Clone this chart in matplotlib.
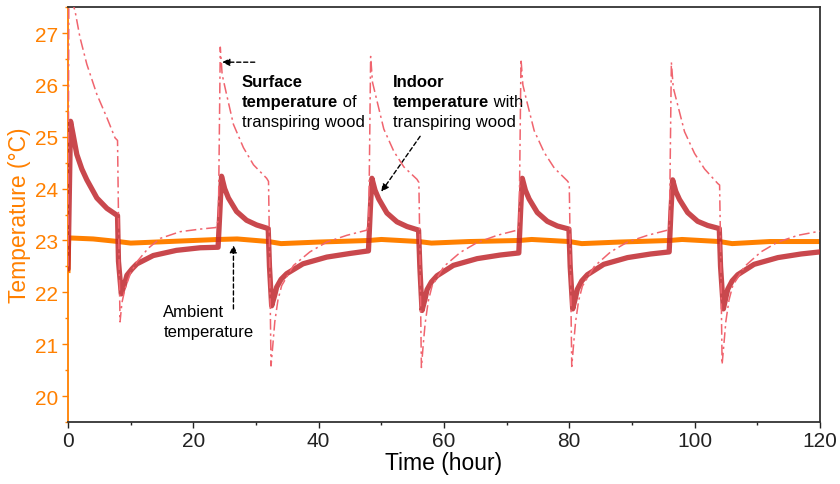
import numpy as np
import matplotlib
matplotlib.use("Agg")
import matplotlib.pyplot as plt
from matplotlib.ticker import MultipleLocator

plt.rcParams['font.family'] = ['Liberation Sans', 'DejaVu Sans']

# ambient air temperature (hour, degC)
ambient_t = [0.0, 0.1, 4, 8, 10, 14, 20, 24, 27, 32, 34, 40, 48, 50, 56, 58, 64,
             72, 74, 80, 82, 88, 96, 98, 104, 106, 112, 120]
ambient_T = [22.42, 23.05, 23.03, 22.98, 22.95, 22.97, 23.0, 23.02, 23.03, 22.98, 22.94, 22.97,
             23.0, 23.02, 22.98, 22.95, 22.98, 23.0, 23.02, 22.98, 22.94, 22.97, 23.0, 23.02,
             22.98, 22.94, 22.98, 22.98]

# indoor temperature with transpiring wood
indoor_t = [0.0, 0.4, 0.8, 1.4, 2.2, 3.0, 4.6, 6.2, 7.9, 8.05, 8.5, 9.0, 9.4, 10.2, 11.0, 13.6,
            17.3, 21.1, 23.95,
            24.25, 24.5, 25.0, 25.6, 26.9, 28.5, 30.1, 31.95, 32.15, 32.5, 33.0, 33.3, 34.0, 34.9,
            37.5, 41.3, 45.0, 47.95,
            48.25, 48.5, 49.0, 49.6, 50.9, 52.5, 54.1, 55.95, 56.15, 56.5, 57.0, 57.3, 58.0, 58.9,
            61.5, 65.3, 69.0, 71.95,
            72.25, 72.5, 73.0, 73.6, 74.9, 76.5, 78.1, 79.95, 80.15, 80.55, 81.0, 81.3, 82.0, 82.9,
            85.5, 89.3, 93.0, 95.95,
            96.25, 96.5, 97.0, 97.6, 98.9, 100.5, 102.1, 103.95, 104.15, 104.6, 105.0, 105.3, 106.0,
            106.9, 109.5, 113.3, 117.0, 120.0]
indoor_T = [22.45, 25.30, 25.05, 24.66, 24.38, 24.17, 23.82, 23.62, 23.48, 22.6, 21.97, 22.15,
            22.33, 22.45, 22.55, 22.71, 22.81, 22.86, 22.87,
            23.6, 24.24, 24.0, 23.82, 23.56, 23.39, 23.30, 23.23, 22.5, 21.74, 21.95, 22.10, 22.25,
            22.36, 22.55, 22.68, 22.75, 22.80,
            23.6, 24.2, 23.97, 23.8, 23.53, 23.36, 23.27, 23.2, 22.5, 21.65, 21.88, 22.05, 22.2,
            22.32, 22.52, 22.65, 22.72, 22.76,
            23.6, 24.2, 23.97, 23.8, 23.54, 23.37, 23.28, 23.22, 22.5, 21.68, 21.9, 22.06, 22.22,
            22.34, 22.54, 22.67, 22.74, 22.78,
            23.6, 24.17, 23.95, 23.79, 23.54, 23.37, 23.29, 23.23, 22.5, 21.68, 21.9, 22.06, 22.22,
            22.34, 22.54, 22.67, 22.74, 22.78]

# surface temperature of transpiring wood
surface_t = [0.0, 0.15, 0.8, 1.1, 1.9, 3.0, 4.6, 6.2, 7.5, 7.9, 8.1, 8.3, 8.6, 9.1, 10.0, 11.0,
             12.8, 14.7, 17.9, 21.1, 23.6, 24.0,
             24.3, 24.6, 25.3, 26.4, 28.0, 29.6, 31.7, 32.0, 32.2, 32.4, 32.7, 33.0, 33.5, 34.1,
             36.0, 38.6, 41.3, 44.5, 47.7, 48.0,
             48.3, 48.6, 49.3, 50.4, 52.0, 53.6, 55.7, 56.0, 56.2, 56.4, 56.7, 57.0, 57.5, 58.1,
             60.0, 62.6, 65.3, 68.5, 71.7, 72.0,
             72.3, 72.6, 73.3, 74.4, 76.0, 77.6, 79.7, 80.0, 80.2, 80.4, 80.7, 81.0, 81.5, 82.1,
             84.0, 86.6, 89.3, 92.5, 95.7, 96.0,
             96.3, 96.6, 97.3, 98.4, 100.0, 101.6, 103.7, 104.0, 104.2, 104.4, 104.7, 105.0, 105.5,
             106.1, 108.0, 110.6, 113.3, 116.5, 120.0]
surface_T = [22.5, 28.8, 27.55, 27.44, 26.92, 26.40, 25.82, 25.37, 24.98, 24.93, 23.0, 21.43, 21.8,
             22.07, 22.38, 22.59, 22.85, 23.04, 23.17, 23.22, 23.25, 23.4,
             26.73, 26.2, 25.82, 25.24, 24.79, 24.46, 24.20, 24.14, 22.5, 20.58, 21.0, 21.43, 21.85,
             22.13, 22.52, 22.78, 22.97, 23.10, 23.20, 23.35,
             26.55, 26.05, 25.7, 25.15, 24.72, 24.42, 24.18, 24.12, 22.5, 20.55, 21.0, 21.4, 21.83,
             22.12, 22.5, 22.77, 22.96, 23.1, 23.2, 23.3,
             26.5, 26.0, 25.65, 25.12, 24.7, 24.4, 24.15, 24.1, 22.5, 20.57, 21.0, 21.42, 21.84,
             22.12, 22.5, 22.78, 22.97, 23.1, 23.2, 23.3,
             26.44, 25.95, 25.62, 25.1, 24.68, 24.38, 24.1, 24.07, 22.5, 20.61, 21.02, 21.44, 21.85,
             22.13, 22.5, 22.78, 22.97, 23.1, 23.18]

orange = '#ff8000'

fig = plt.figure(figsize=(8.4, 4.85), dpi=100)
ax = fig.add_axes([0.081, 0.128, 0.895, 0.855])

ax.plot(ambient_t, ambient_T, color=orange, lw=3.6, solid_joinstyle='round', zorder=2)
ax.plot(indoor_t, indoor_T, color='#c0282e', alpha=0.85, lw=3.8,
        solid_joinstyle='round', solid_capstyle='round', zorder=3)
ax.plot(surface_t, surface_T, color='#f0646e', lw=1.1,
        linestyle=(0, (7, 2.5, 1.5, 2.5)), zorder=4)

ax.set_xlim(0, 120)
ax.set_ylim(19.5, 27.5)
ax.xaxis.set_major_locator(MultipleLocator(20))
ax.xaxis.set_minor_locator(MultipleLocator(10))
ax.yaxis.set_major_locator(MultipleLocator(1))
ax.yaxis.set_minor_locator(MultipleLocator(0.5))

ax.tick_params(axis='x', which='major', length=4, width=1, labelsize=15, pad=2.5, colors='#222222')
ax.tick_params(axis='x', which='minor', length=2, width=1, colors='#222222')
ax.tick_params(axis='y', which='major', length=4, width=1, labelsize=15, pad=3,
               colors=orange)
ax.tick_params(axis='y', which='minor', length=2, width=1, colors=orange)

for side in ['top', 'right', 'bottom']:
    ax.spines[side].set_color('#333333')
    ax.spines[side].set_linewidth(1.3)
ax.spines['left'].set_color(orange)
ax.spines['left'].set_linewidth(1.3)

ax.set_xlabel('Time (hour)', fontsize=16.5, labelpad=1)
ax.set_ylabel('Temperature (°C)', fontsize=16.5, color=orange, labelpad=3)

# annotations with bold keywords
def label_block(x, y0, head, tail, dy=0.385):
    ax.text(x, y0, head, fontsize=12, fontweight='bold', va='baseline')
    t = ax.text(x, y0 - dy, 'temperature', fontsize=12, fontweight='bold', va='baseline')
    ax.annotate(' ' + tail, xy=(1, 0), xycoords=t, fontsize=12, va='bottom', ha='left')
    ax.text(x, y0 - 2 * dy, 'transpiring wood', fontsize=12, va='baseline')

label_block(27.7, 25.98, 'Surface', 'of')
label_block(51.8, 25.98, 'Indoor', 'with')
ax.text(15.2, 21.55, 'Ambient', fontsize=12, va='baseline')
ax.text(15.2, 21.16, 'temperature', fontsize=12, va='baseline')

arrow = dict(arrowstyle='-|>', linestyle=(0, (3, 2)), color='black', lw=1,
             mutation_scale=11, shrinkA=0, shrinkB=0)
ax.annotate('', xy=(24.6, 26.44), xytext=(29.8, 26.44), arrowprops=arrow)
ax.annotate('', xy=(50.0, 23.94), xytext=(56.2, 25.01), arrowprops=arrow)
ax.annotate('', xy=(26.4, 22.91), xytext=(26.4, 21.68), arrowprops=arrow)

fig.savefig('out.png', dpi=100)
